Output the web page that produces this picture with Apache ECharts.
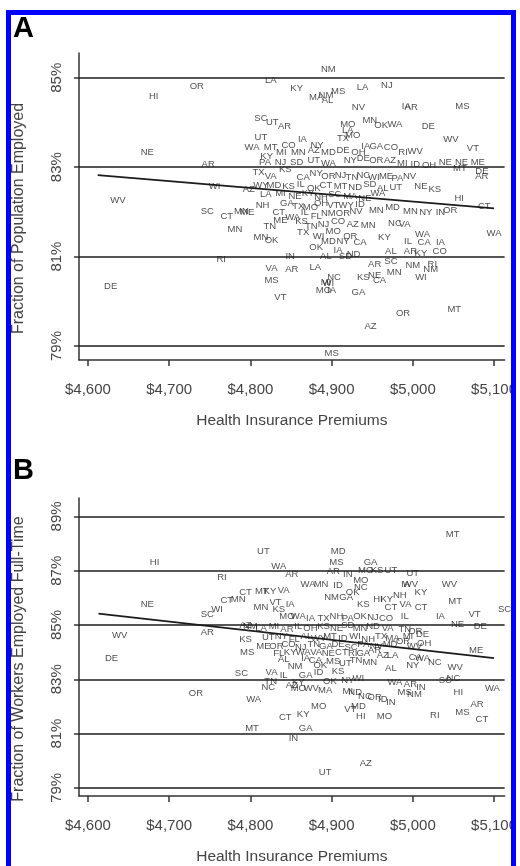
<!DOCTYPE html>
<html>
<head>
<meta charset="utf-8">
<script src="https://cdn.jsdelivr.net/npm/echarts@6/dist/echarts.min.js"></script>
<style>
  html, body { margin: 0; background: #fff; }
  #chart { width: 520px; height: 866px; }
</style>
</head>
<body>
<div id="chart"></div>
<script>
// tick values shared by both panels
const xTicks = [4600, 4700, 4800, 4900, 5000, 5100];
const yTicksA = [79, 81, 83, 85];
const yTicksB = [79, 81, 83, 85, 87, 89];

// fitted lines (end points)
const fitA = [[4612, 82.82], [5100, 82.08]];
const fitB = [[4613, 85.42], [5100, 83.78]];

// panel A: [state, premium $, % of population employed]
const panelA = [
  ['NM',4896,85.19],['LA',4825,84.95],['KY',4857,84.77],['LA',4938,84.79],['NJ',4968,84.84],['OR',4734,84.81],['HI',4681,84.59],
  ['MS',4908,84.70],['NM',4893,84.61],['MA',4881,84.55],['AL',4895,84.50],['NV',4933,84.34],['IA',4992,84.37],['AR',4998,84.34],['MS',5061,84.37],
  ['SC',4813,84.10],['UT',4827,84.01],['AR',4842,83.92],['MO',4920,83.96],['MN',4947,84.05],['OK',4961,83.94],['WA',4978,83.96],['DE',5019,83.92],
  ['SC',5116,83.76],['WV',5047,83.63],['VT',5074,83.43],['UT',4813,83.67],['WA',4802,83.45],['MT',4825,83.45],['CO',4847,83.49],['IA',4864,83.63],
  ['NY',4882,83.49],['TX',4914,83.65],['MO',4926,83.72],['LA',4920,83.83],['CO',4973,83.45],['RI',4988,83.32],['WV',5003,83.36],['GA',4955,83.47],['IA',4942,83.47],
  ['NE',4673,83.34],['AR',4748,83.07],['WI',4756,82.58],['WV',4637,82.26],['SC',4747,82.02],['CT',4771,81.89],['MN',4789,82.00],['ME',4796,81.98],
  ['MN',4781,81.60],['RI',4764,80.93],['DE',4628,80.34],
  ['NE',5040,83.11],['NE',5060,83.11],['ME',5080,83.11],['MT',5058,82.98],['DE',5085,82.91],['AR',5085,82.80],['NE',5010,82.58],['KS',5027,82.51],
  ['HI',5057,82.31],['CT',5088,82.13],['MD',4975,82.09],['MN',4997,82.00],['NY',5016,81.98],['IN',5034,81.98],['OR',5046,82.04],['NC',4978,81.75],['VA',4990,81.71],
  ['WA',5100,81.53],['WA',5012,81.49],['CA',5014,81.31],['IA',5034,81.31],['IL',4994,81.35],['KY',4965,81.44],['CO',5033,81.11],['AL',4973,81.11],['AR',4997,81.11],['KY',5010,81.08],
  ['IN',4849,81.00],['VA',4826,80.73],['AR',4851,80.71],['LA',4880,80.76],['MS',4826,80.47],['NC',4903,80.54],['MI',4893,80.43],['WI',4896,80.40],
  ['AR',4953,80.82],['SC',4973,80.89],['NM',5000,80.80],['RI',5024,80.82],['NM',5022,80.71],['WI',5010,80.54],['KS',4939,80.54],['NE',4953,80.58],['MN',4977,80.65],['CA',4959,80.47],
  ['MO',4890,80.25],['IA',4900,80.25],['GA',4933,80.21],['VT',4837,80.08],['OR',4988,79.74],['MT',5051,79.81],['AZ',4948,79.45],['MS',4900,78.84],
  ['TN',4824,81.67],['MN',4813,81.42],['OK',4826,81.37],['NH',4815,82.15],
  ['KY',4820,83.23],['MI',4838,83.34],['MN',4859,83.32],['AZ',4878,83.38],['MD',4896,83.34],['DE',4914,83.38],['OH',4933,83.34],['OR',4955,83.16],
  ['PA',4818,83.11],['NJ',4837,83.11],['SD',4857,83.11],['UT',4878,83.16],['WA',4896,83.09],['NY',4923,83.16],['DE',4939,83.20],['AZ',4972,83.16],['MI',4987,83.09],['ID',5003,83.07],['OH',5020,83.05],
  ['TX',4810,82.89],['VA',4825,82.80],['KS',4843,82.94],['CA',4865,82.78],['NY',4881,82.85],['OR',4896,82.80],['NJ',4911,82.82],['TN',4925,82.78],['NC',4939,82.82],['WI',4952,82.78],['ME',4967,82.80],['PA',4981,82.76],['NV',4996,82.80],
  ['WY',4813,82.60],['AZ',4798,82.51],['MD',4829,82.60],['KS',4847,82.58],['IL',4862,82.62],['OK',4878,82.53],['CT',4893,82.60],['MT',4911,82.58],['ND',4929,82.55],['SD',4947,82.62],['AL',4963,82.53],['UT',4979,82.55],
  ['LA',4819,82.38],['MI',4837,82.42],['NE',4855,82.35],['KY',4871,82.42],['NH',4887,82.33],['SC',4904,82.38],['MA',4923,82.35],['NE',4941,82.31],['WA',4957,82.42],
  ['GA',4845,82.20],['TX',4859,82.13],['MO',4874,82.09],['OH',4887,82.20],['VT',4902,82.15],['WY',4918,82.15],['ID',4935,82.17],['MN',4955,82.04],
  ['CT',4835,81.98],['WA',4852,81.87],['IL',4867,81.98],['FL',4881,81.91],['NM',4896,81.96],['OR',4914,81.96],['NV',4930,82.00],
  ['ME',4837,81.80],['KS',4863,81.78],['TN',4875,81.67],['NJ',4890,81.73],['CO',4908,81.78],['AZ',4926,81.73],['MN',4945,81.69],
  ['TX',4865,81.55],['WI',4884,81.46],['MO',4902,81.57],['OR',4923,81.46],['MD',4896,81.35],['NY',4914,81.33],['CA',4935,81.31],
  ['OK',4881,81.20],['IA',4908,81.13],['AL',4893,81.00],['SD',4917,81.00],['ND',4927,81.04]
];

// panel B: [state, premium $, % of workers employed full-time]
const panelB = [
  ['MT',5049,88.35],['HI',4682,87.31],['UT',4816,87.71],['MD',4908,87.71],['MS',4906,87.31],['GA',4948,87.31],['WA',4835,87.17],['AR',4851,86.85],
  ['RI',4765,86.74],['MO',4942,87.03],['KS',4956,87.03],['UT',4973,87.03],['UT',5000,86.92],['AR',4902,86.99],['IN',4920,86.88],['MO',4936,86.63],
  ['IA',4991,86.49],['WV',4997,86.49],['WV',5045,86.49],['KY',5010,86.20],['NH',4984,86.09],['HI',4957,85.95],['KY',4968,85.95],['KS',4939,85.77],
  ['CT',4973,85.66],['VA',4991,85.77],['CT',5010,85.66],['MT',5052,85.88],['VT',5076,85.41],['SC',5113,85.56],['IA',5034,85.30],['IL',4990,85.30],
  ['NE',5055,85.02],['DE',5083,84.95],['NE',4673,85.77],['CT',4771,85.91],['MN',4785,85.95],['CT',4794,86.20],['SC',4747,85.41],['WI',4759,85.56],
  ['AZ',4794,84.98],['NM',4800,84.95],['WV',4639,84.62],['AR',4747,84.73],['KS',4794,84.48],['MS',4796,84.01],['DE',4629,83.76],['OR',4733,82.47],
  ['WA',4804,82.25],['SC',4789,83.22],['MT',4802,81.18],['MT',4814,86.24],['KY',4824,86.24],['VA',4841,86.27],['MN',4813,85.66],['VT',4831,85.84],
  ['IA',4849,85.77],['KS',4835,85.59],['MO',4845,85.30],['WA',4859,85.30],['NM',4900,86.02],['GA',4918,86.02],['WA',4871,86.49],['MN',4887,86.49],
  ['ID',4908,86.45],['NC',4936,86.38],['OK',4926,86.20],['TN',4990,84.84],['OR',5003,84.77],['DE',5012,84.66],['MI',4994,84.59],['OH',5014,84.34],
  ['WV',5002,84.23],['OR',4988,84.41],['ME',5078,84.05],['NM',4855,83.47],['IA',4868,83.76],['CA',4880,83.69],['OK',4886,83.51],['GA',4939,83.94],
  ['AR',4953,84.05],['AZ',4963,83.87],['LA',4975,83.87],['AL',4973,83.40],['CA',5003,83.80],['WA',5012,83.76],['NY',5000,83.51],['NC',5027,83.62],
  ['WV',5052,83.44],['ID',4884,83.26],['VA',4826,83.26],['TN',4825,82.94],['NC',4822,82.72],['KY',4859,82.90],['AZ',4851,82.79],['MO',4859,82.68],
  ['WV',4875,82.68],['MA',4892,82.61],['MI',4920,82.54],['WI',4933,83.04],['ND',4929,82.51],['NC',4941,82.36],['OR',4953,82.33],['ID',4963,82.25],
  ['IN',4973,82.15],['WA',4978,82.90],['AR',4997,82.83],['IN',5010,82.72],['MS',4990,82.51],['NM',5002,82.43],['SC',5040,82.97],['NC',5050,83.04],
  ['HI',5056,82.51],['WA',5098,82.68],['MO',4884,82.00],['VT',4923,81.90],['MD',4933,82.00],['HI',4936,81.64],['MO',4965,81.64],['CT',4843,81.61],
  ['KY',4865,81.72],['RI',5027,81.68],['MS',5061,81.79],['AR',5079,82.08],['CT',5085,81.54],['GA',4868,81.21],['IN',4853,80.82],['AZ',4942,79.89],
  ['UT',4892,79.57],
  ['IA',4874,85.23],['TX',4890,85.23],['NH',4906,85.30],['PA',4920,85.23],['OK',4935,85.30],['NJ',4951,85.27],['CO',4967,85.23],
  ['LA',4813,84.87],['MI',4829,84.95],['AR',4845,84.84],['IL',4859,84.95],['OH',4874,84.87],['KS',4890,84.95],['NE',4906,84.87],['SD',4920,84.98],['MN',4935,84.87],['ND',4951,84.95],['VA',4969,84.87],
  ['UT',4822,84.55],['NY',4838,84.59],['FL',4854,84.48],['AL',4869,84.59],['WY',4884,84.51],['MT',4898,84.59],['ID',4914,84.51],['WI',4929,84.59],['NH',4945,84.48],['TX',4961,84.59],['MA',4975,84.51],
  ['ME',4816,84.23],['OR',4832,84.23],['CO',4847,84.30],['NJ',4862,84.19],['TN',4878,84.30],['GA',4893,84.23],['DE',4908,84.30],['SC',4924,84.19],['PA',4939,84.30],['NV',4955,84.23],['MD',4972,84.30],
  ['FL',4835,83.94],['KY',4849,84.01],['WA',4865,83.98],['VA',4881,84.01],['NE',4896,83.94],['CT',4912,84.01],['RI',4926,83.94],
  ['MS',4902,83.65],['UT',4917,83.58],['TN',4930,83.69],['MN',4947,83.62],['AL',4841,83.73],
  ['GA',4868,83.15],['KS',4908,83.29],['NY',4920,82.97],['OK',4898,82.94],['IL',4841,83.15]
];

const FONT = '"Liberation Sans", Arial, sans-serif';
const INK = '#1c1c1c';

function xAxisFor(idx) {
  return {
    type: 'value', gridIndex: idx, min: 4589, max: 5113,
    axisLine: { show: true, onZero: false, lineStyle: { color: '#333', width: 1.5 } },
    axisTick: { show: true, customValues: xTicks, length: 6, lineStyle: { color: '#333', width: 1.5 } },
    axisLabel: {
      customValues: xTicks, margin: 22, fontSize: 15, color: '#444', fontFamily: FONT,
      formatter: v => '$' + String(v).replace(/\B(?=(\d{3})+(?!\d))/g, ',')
    },
    splitLine: { show: false },
    name: 'Health Insurance Premiums', nameLocation: 'middle', nameGap: 53,
    nameTextStyle: { fontSize: 15.5, color: '#444', fontFamily: FONT }
  };
}

function yAxisFor(idx, min, max, ticks, title) {
  return {
    type: 'value', gridIndex: idx, min: min, max: max,
    axisLine: { show: true, onZero: false, lineStyle: { color: '#333', width: 1.5 } },
    axisTick: { show: true, customValues: ticks, length: 5, lineStyle: { color: '#333', width: 1.5 } },
    axisLabel: { customValues: ticks, rotate: 90, margin: 15, fontSize: 15, color: '#444', fontFamily: FONT, formatter: v => v + '%' },
    splitLine: { show: false },
    name: title, nameLocation: 'middle', nameRotate: 90, nameGap: 52,
    nameTextStyle: { fontSize: 16, color: '#444', fontFamily: FONT, padding: [0, 24, 0, 0] }
  };
}

function labels(rows, idx) {
  return {
    type: 'scatter', xAxisIndex: idx, yAxisIndex: idx, silent: true,
    data: rows.map(r => [r[1], r[2], r[0]]),
    symbolSize: 1, itemStyle: { color: 'rgba(0,0,0,0)' },
    label: { show: true, position: 'inside', formatter: p => p.value[2], fontSize: 9.5, color: INK, fontFamily: FONT },
    z: 3
  };
}

function fitLine(pts, ticks, idx) {
  return {
    type: 'line', xAxisIndex: idx, yAxisIndex: idx, silent: true,
    data: pts, symbol: 'none', lineStyle: { color: INK, width: 1.7 },
    markLine: {
      silent: true, symbol: 'none', label: { show: false },
      lineStyle: { color: INK, width: 1.5, type: 'solid' },
      data: ticks.map(t => ({ yAxis: t }))
    },
    z: 2
  };
}

const chart = echarts.init(document.getElementById('chart'));
chart.setOption({
  animation: false,
  backgroundColor: '#fff',
  grid: [
    { left: 79, right: 12, top: 53, height: 307 },
    { left: 79, right: 12, top: 498, height: 306 }
  ],
  xAxis: [xAxisFor(0), xAxisFor(1)],
  yAxis: [
    yAxisFor(0, 78.687, 85.553, yTicksA, 'Fraction of Population Employed'),
    yAxisFor(1, 78.70, 89.68, yTicksB, 'Fraction of Workers Employed Full-Time')
  ],
  series: [
    fitLine(fitA, yTicksA, 0), labels(panelA, 0),
    fitLine(fitB, yTicksB, 1), labels(panelB, 1)
  ],
  graphic: [
    { type: 'text', left: 13, top: 14, style: { text: 'A', font: 'bold 29px ' + FONT, fill: '#000' } },
    { type: 'text', left: 13, top: 456, style: { text: 'B', font: 'bold 29px ' + FONT, fill: '#000' } },
    { type: 'rect', shape: { x: 516, y: 0, width: 4, height: 866 }, style: { fill: '#fff' }, z: 100 },
    { type: 'rect', shape: { x: 8.5, y: 12.5, width: 505, height: 900 }, style: { fill: 'transparent', stroke: '#0000ff', lineWidth: 5 }, z: 101 }
  ]
});
</script>
</body>
</html>
